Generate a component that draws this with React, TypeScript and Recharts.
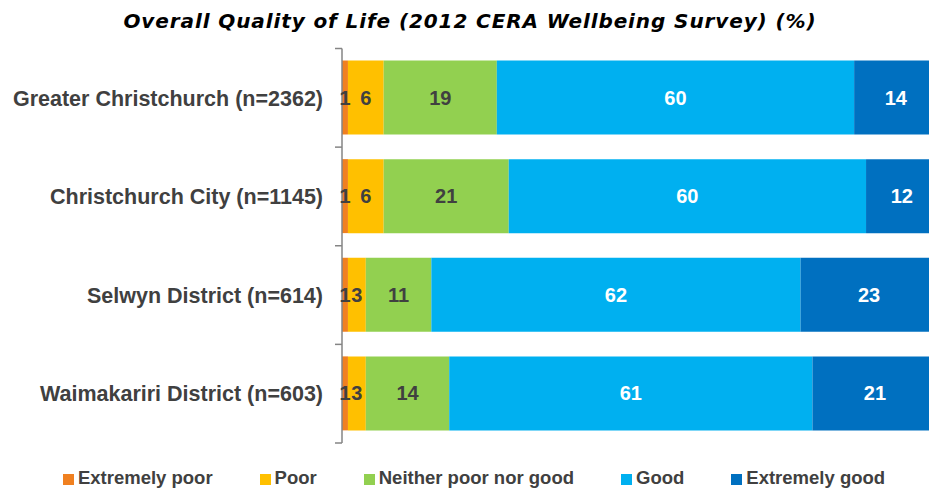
import React from "react";
import { BarChart, Bar, XAxis, YAxis, Legend, LabelList } from "recharts";

/* ── data ─────────────────────────────────────────────────────────────── */

const CATEGORIES = [
  "Greater Christchurch (n=2362)",
  "Christchurch City (n=1145)",
  "Selwyn District (n=614)",
  "Waimakariri District (n=603)",
];
const EXTREMELY_POOR = [1, 1, 1, 1];
const POOR = [6, 6, 3, 3];
const NEITHER = [19, 21, 11, 14];
const GOOD = [60, 60, 62, 61];
const EXTREMELY_GOOD = [14, 12, 23, 21];

const SERIES = [
  { key: "extremelyPoor", name: "Extremely poor", values: EXTREMELY_POOR, color: "#F08020", label: "#404040" },
  { key: "poor", name: "Poor", values: POOR, color: "#FFC000", label: "#404040" },
  { key: "neither", name: "Neither poor nor good", values: NEITHER, color: "#92D050", label: "#404040" },
  { key: "good", name: "Good", values: GOOD, color: "#00B0F0", label: "#FFFFFF" },
  { key: "extremelyGood", name: "Extremely good", values: EXTREMELY_GOOD, color: "#0070C0", label: "#FFFFFF" },
];

const data = CATEGORIES.map((name, i) => {
  const row: Record<string, string | number> = { name };
  SERIES.forEach((s) => (row[s.key] = s.values[i]));
  return row;
});

/* ── helpers ──────────────────────────────────────────────────────────── */

const FONT = "'Liberation Sans', Arial, sans-serif";
const TICK_SIZE = 7;
const TICK_MARGIN = 12;
const AXIS_COLOR = "#858585";

function CategoryTick(props: any) {
  const { x, y, payload, index, visibleTicksCount } = props;
  const half = payload?.offset ?? 49;
  const axisX = x + TICK_MARGIN + TICK_SIZE;
  return (
    <g>
      <text
        x={x}
        y={y}
        dy="0.36em"
        textAnchor="end"
        fill="#404040"
        style={{ fontFamily: FONT, fontSize: 21.5, fontWeight: 700 }}
      >
        {payload.value}
      </text>
      <line x1={axisX - TICK_SIZE} x2={axisX} y1={y - half} y2={y - half} stroke={AXIS_COLOR} strokeWidth={1.5} />
      {index === visibleTicksCount - 1 && (
        <line x1={axisX - TICK_SIZE} x2={axisX} y1={y + half} y2={y + half} stroke={AXIS_COLOR} strokeWidth={1.5} />
      )}
    </g>
  );
}

function LegendContent() {
  return (
    <div
      style={{
        display: "flex",
        justifyContent: "center",
        gap: 47,
        paddingTop: 21,
        height: 49,
        boxSizing: "border-box",
        lineHeight: "24px",
        fontFamily: FONT,
        fontSize: 18.5,
        fontWeight: 700,
        color: "#404040",
        whiteSpace: "nowrap",
      }}
    >
      {SERIES.map((s) => (
        <div key={s.key} style={{ display: "flex", alignItems: "center" }}>
          <span style={{ width: 11, height: 11, background: s.color, marginRight: 4, marginTop: 2 }} />
          <span>{s.name}</span>
        </div>
      ))}
    </div>
  );
}

/* ── chart ────────────────────────────────────────────────────────────── */

export default function App() {
  return (
    <div
      style={{
        position: "fixed",
        left: 0,
        top: 0,
        width: 929,
        height: 488,
        overflow: "hidden",
        background: "#fff",
      }}
    >
      <div
        style={{
          position: "absolute",
          left: 0,
          top: 11,
          width: 940,
          textAlign: "center",
          fontFamily: "'DejaVu Sans', Verdana, sans-serif",
          fontStyle: "italic",
          fontWeight: 700,
          fontSize: 20,
          letterSpacing: 0.9,
          lineHeight: "20px",
          color: "#000",
          whiteSpace: "nowrap",
        }}
      >
        Overall Quality of Life (2012 CERA Wellbeing Survey) (%)
      </div>
      <BarChart
        width={950}
        height={492}
        data={data}
        layout="vertical"
        barSize={74}
        margin={{ top: 48.5, right: 12.5, left: 0, bottom: 0 }}
      >
        <XAxis type="number" domain={[0, 100]} hide />
        <YAxis
          type="category"
          dataKey="name"
          width={342}
          tickLine={false}
          tickSize={TICK_SIZE}
          tickMargin={TICK_MARGIN}
          axisLine={{ stroke: AXIS_COLOR, strokeWidth: 1.5 }}
          tick={<CategoryTick />}
          interval={0}
        />
        <Legend
          verticalAlign="bottom"
          content={<LegendContent />}
          wrapperStyle={{ left: 0, width: 948 }}
        />
        {SERIES.map((s) => (
          <Bar key={s.key} dataKey={s.key} name={s.name} stackId="a" fill={s.color} isAnimationActive={false}>
            <LabelList
              dataKey={s.key}
              position="center"
              fill={s.label}
              style={{ fontFamily: FONT, fontSize: 20, fontWeight: 700 }}
            />
          </Bar>
        ))}
      </BarChart>
    </div>
  );
}
